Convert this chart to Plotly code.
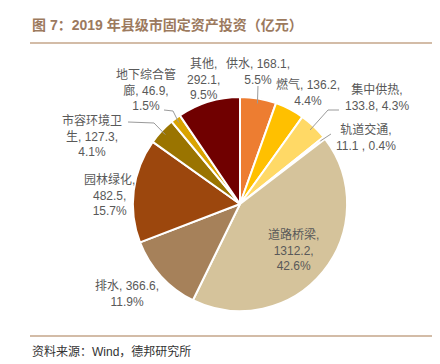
import math
import plotly.graph_objects as go

# ---- data ----
categories = ["供水", "燃气", "集中供热", "轨道交通", "道路桥梁", "排水",
              "园林绿化", "市容环境卫生", "地下综合管廊", "其他"]
values = [168.1, 136.2, 133.8, 11.1, 1312.2, 366.6, 482.5, 127.3, 46.9, 292.1]
pct_labels = ["5.5%", "4.4%", "4.3%", "0.4%", "42.6%", "11.9%", "15.7%", "4.1%", "1.5%", "9.5%"]
colors = ["#ED7D31", "#FFC000", "#FFD966", "#F4B183", "#D5C39B", "#A6815A",
          "#9C470D", "#9A7400", "#D9A300", "#700000"]

W, H = 440, 364
CX, CY, R = 232, 196, 102  # pie geometry in pixels
DOM = R * 1.05             # domain half-size (plotly pads the pie a little)

def px(x):
    return x / W

def py(y):
    return 1 - y / H

fig = go.Figure(go.Pie(
    labels=categories, values=values, sort=False, direction="clockwise", rotation=0,
    marker=dict(colors=colors, line=dict(color="white", width=2)),
    textinfo="none", hoverinfo="label+value+percent", showlegend=False,
    domain=dict(x=[px(CX - DOM), px(CX + DOM)], y=[py(CY + DOM), py(CY - DOM)]),
))

label_text = {
    "其他": "其他,<br>292.1,<br>9.5%",
    "供水": "供水, 168.1,<br>5.5%",
    "燃气": "燃气, 136.2,<br>4.4%",
    "集中供热": "集中供热,<br>133.8, 4.3%",
    "轨道交通": "轨道交通,<br>11.1 , 0.4%",
    "道路桥梁": "道路桥梁,<br>1312.2,<br>42.6%",
    "排水": "排水, 366.6,<br>11.9%",
    "园林绿化": "园林绿化,<br>482.5,<br>15.7%",
    "市容环境卫生": "市容环境卫<br>生, 127.3,<br>4.1%",
    "地下综合管廊": "地下综合管<br>廊, 46.9,<br>1.5%",
}
label_pos = {  # center x, top y (pixels)
    "其他": (195, 47), "供水": (250, 47), "燃气": (300, 67), "集中供热": (369, 72),
    "轨道交通": (358, 112), "道路桥梁": (285, 217), "排水": (119, 269),
    "园林绿化": (101, 162), "市容环境卫生": (84, 103), "地下综合管廊": (138, 57),
}
leader_from = {
    "供水": [(250, 78)],
    "集中供热": [(331, 102), (320, 102)],
    "轨道交通": [(323, 126)],
    "市容环境卫生": [(120, 114), (146, 115)],
    "地下综合管廊": [(156, 102), (165, 103)],
}

total = sum(values)
cum = 0
anns = []
shapes = []
for cat, v in zip(categories, values):
    mid = (cum + v / 2) / total * 2 * math.pi
    cum += v
    ex = CX + R * math.sin(mid)
    ey = CY - R * math.cos(mid)
    tx, ty = label_pos[cat]
    anns.append(dict(x=px(tx), y=py(ty), xref="paper", yref="paper", text=label_text[cat],
                     showarrow=False, xanchor="center", yanchor="top", align="center",
                     font=dict(size=12, color="#595959")))
    if cat in leader_from:
        pts = leader_from[cat] + [(ex, ey)]
        path = "M " + " L ".join(f"{px(a):.5f},{py(b):.5f}" for a, b in pts)
        shapes.append(dict(type="path", xref="paper", yref="paper", path=path,
                           line=dict(color="#9A9A9A", width=1)))

anns.append(dict(x=px(22), y=py(17), xref="paper", yref="paper",
                 text="<b>图 7：2019 年县级市固定资产投资（亿元）</b>", showarrow=False,
                 xanchor="left", yanchor="middle", font=dict(size=14, color="#9C7A5E")))
anns.append(dict(x=px(22), y=py(343), xref="paper", yref="paper",
                 text="资料来源：Wind，德邦研究所", showarrow=False,
                 xanchor="left", yanchor="middle", font=dict(size=12, color="#333333")))
for yy in (35, 328):
    shapes.append(dict(type="line", xref="paper", yref="paper", x0=px(22), x1=px(433),
                       y0=py(yy), y1=py(yy), line=dict(color="#C4A68A", width=1.5)))

fig.update_layout(
    width=W, height=H, margin=dict(l=0, r=0, t=0, b=0),
    paper_bgcolor="white", plot_bgcolor="white",
    font=dict(family="Liberation Sans, Arial, Noto Sans CJK SC, sans-serif", color="#595959"),
    annotations=anns, shapes=shapes,
)
fig.write_html("out.html")
